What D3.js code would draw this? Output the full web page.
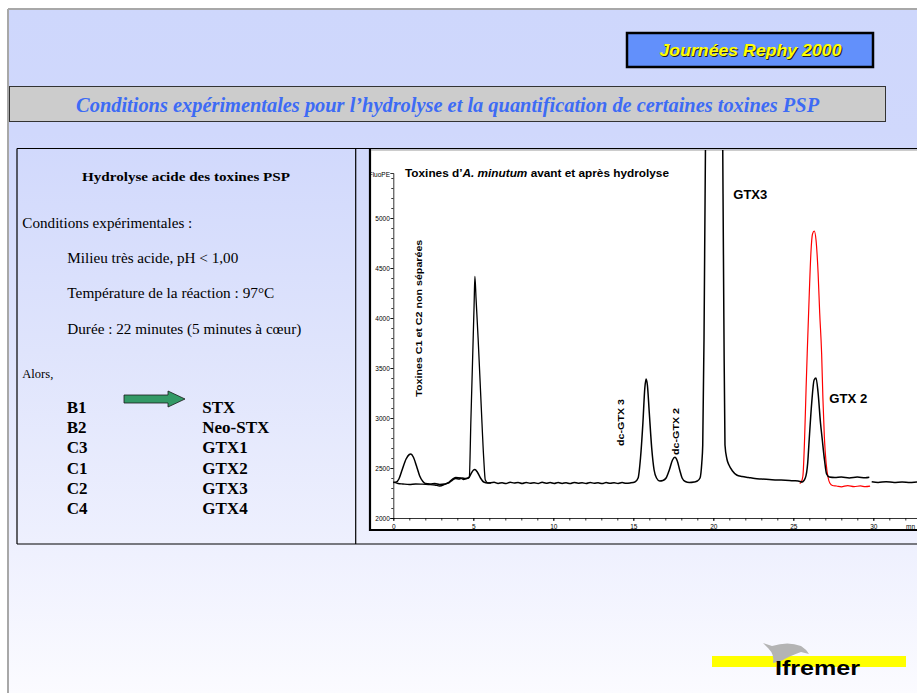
<!DOCTYPE html>
<html><head><meta charset="utf-8">
<script src="https://cdn.jsdelivr.net/npm/d3@7"></script>
<style>body{margin:0;background:#fff;overflow:hidden}svg{display:block}</style>
</head><body><div id="chart"></div>
<script>
// ---------- data ----------
const xTicks = [0, 5, 10, 15, 20, 25, 30];
const yTicks = [2000, 2500, 3000, 3500, 4000, 4500, 5000];
const xUnit = "mn";
const yUnit = "FluoPE";

// chromatogram "avant" (black), [time (min), fluorescence]
const traceAvant = [[0,2355],[0.2,2360],[0.35,2390],[0.55,2480],[0.8,2590],[1.0,2635],[1.1,2640],[1.25,2610],[1.45,2520],[1.65,2420],[1.85,2365],[2.0,2345],[2.3,2340],[2.6,2345],[2.9,2335],[3.2,2340],[3.5,2355],[3.7,2380],[3.9,2395],[4.1,2390],[4.3,2400],[4.5,2395],[4.7,2400],[4.85,2440],[5.0,2478],[5.1,2485],[5.25,2460],[5.45,2400],[5.65,2360],[5.9,2350],[6.3,2357],[6.55,2346],[6.8,2352],[7.05,2344],[7.3,2358],[7.55,2349],[7.8,2355],[8.05,2345],[8.3,2356],[8.55,2347],[8.8,2353],[9.05,2344],[9.3,2357],[9.55,2348],[9.8,2354],[10.05,2345],[10.3,2355],[10.55,2346],[10.8,2352],[11.05,2344],[11.3,2356],[11.55,2348],[11.8,2353],[12.05,2345],[12.3,2355],[12.55,2347],[12.8,2352],[13.05,2344],[13.3,2354],[13.55,2347],[13.8,2353],[14.05,2345],[14.3,2354],[14.55,2348],[14.8,2351],[15.1,2360],[15.3,2400],[15.45,2600],[15.6,2950],[15.72,3300],[15.8,3390],[15.88,3330],[16.0,3050],[16.15,2700],[16.3,2480],[16.45,2400],[16.65,2370],[16.85,2375],[17.05,2400],[17.25,2480],[17.45,2580],[17.6,2607],[17.75,2570],[17.9,2480],[18.05,2400],[18.25,2365],[18.5,2355],[18.8,2360],[19.0,2370],[19.17,2400],[19.28,2550],[19.34,2730],[19.42,3800],[19.51,5700],[19.6,8000],[19.8,14000],[20.05,16000],[20.3,14000],[20.5,8000],[20.59,5700],[20.66,4000],[20.73,2730],[20.85,2590],[20.98,2530],[21.2,2470],[21.46,2430],[21.8,2415],[22.2,2405],[22.6,2395],[23.0,2390],[23.5,2385],[24,2380],[24.5,2378],[25,2372],[25.3,2370],[25.55,2360],[25.75,2400],[25.9,2550],[26.0,2800],[26.15,3150],[26.3,3380],[26.42,3400],[26.55,3250],[26.7,2950],[26.8,2800],[26.95,2580],[27.08,2440],[27.25,2410],[27.6,2405],[28,2410],[28.5,2401],[29,2409],[29.5,2403],[29.75,2408]];
// chromatogram "après" (black, start of run)
const traceApres = [[0,2360],[0.3,2345],[0.6,2340],[1.0,2335],[1.4,2340],[1.8,2338],[2.2,2335],[2.6,2330],[2.9,2320],[3.2,2335],[3.5,2360],[3.7,2390],[3.9,2405],[4.2,2400],[4.4,2385],[4.6,2395],[4.75,2410],[4.85,2980],[4.95,3550],[5.05,4130],[5.1,4415],[5.17,4200],[5.3,3800],[5.5,3100],[5.65,2600],[5.75,2380],[5.9,2352],[6.1,2350]];
// chromatogram "après" (red, GTX 2 region)
const traceRouge = [[25.4,2345],[25.5,2360],[25.6,2420],[25.71,2813],[25.8,3300],[25.87,3647],[26.0,4250],[26.1,4650],[26.2,4840],[26.31,4870],[26.42,4780],[26.55,4450],[26.65,4050],[26.77,3647],[26.85,3200],[26.94,2813],[27.05,2550],[27.18,2400],[27.29,2347],[27.45,2325],[27.7,2320],[28,2312],[28.4,2324],[28.8,2314],[29.2,2321],[29.5,2313],[29.8,2318]];
// end of run (black)
const traceFin = [[29.9,2362],[30.3,2356],[30.8,2363],[31.3,2355],[31.8,2361],[32.3,2356],[32.8,2361],[33.3,2355]];

// peak annotations: [text, time, value, rotated, length]
const peakLabels = [["Toxines C1 et C2 non séparées",1.78,3213,true,157],["dc-GTX 3",14.4,2720,true,47],["dc-GTX 2",17.85,2630,true,47],["GTX3",21.25,5190,false,34],["GTX 2",27.25,3148,false,38]];

const slideBadge = "Journées Rephy 2000";
const slideTitle = "Conditions expérimentales pour l’hydrolyse et la quantification de certaines toxines PSP";
const panelTitle = "Hydrolyse acide des toxines PSP";
const conditionsHead = "Conditions expérimentales :";
const conditionsLines = ["Milieu très acide, pH < 1,00","Température de la réaction : 97°C","Durée : 22 minutes (5 minutes à cœur)"];
const conditionsWidths = [171,207,234];
const alorsText = "Alors,";
const toxinesAvant = ["B1","B2","C3","C1","C2","C4"];
const toxinesApres = ["STX","Neo-STX","GTX1","GTX2","GTX3","GTX4"];

// ---------- drawing ----------
const W = 917, H = 693;
const SERIF = "'Liberation Serif','Times New Roman',serif";
const SANS = "'Liberation Sans',Arial,sans-serif";
const svg = d3.select("#chart").append("svg").attr("width", W).attr("height", H);
const defs = svg.append("defs");
const grad = defs.append("linearGradient").attr("id","bg").attr("gradientUnits","userSpaceOnUse")
  .attr("x1",0).attr("y1",9).attr("x2",0).attr("y2",693);
[[0,"#CED7FC"],[0.18,"#D0D8FC"],[0.5,"#DFE4FC"],[0.78,"#EEF0FE"],[1,"#FBFBFF"]].forEach(s=>grad.append("stop").attr("offset",s[0]).attr("stop-color",s[1]));
defs.append("clipPath").attr("id","plotclip").append("rect").attr("x",371).attr("y",150).attr("width",W-371).attr("height",379);
defs.append("clipPath").attr("id","imgclip").append("rect").attr("x",369).attr("y",149).attr("width",W-369).attr("height",382);

// slide background
svg.append("rect").attr("x",8).attr("y",9).attr("width",W).attr("height",H).attr("fill","url(#bg)");
svg.append("line").attr("x1",8).attr("x2",8).attr("y1",9).attr("y2",H).attr("stroke","#A8A8A8").attr("stroke-width",2);
svg.append("line").attr("x1",8).attr("x2",W).attr("y1",9).attr("y2",9).attr("stroke","#A8A8A8").attr("stroke-width",2);

// badge
svg.append("rect").attr("x",627).attr("y",33).attr("width",246).attr("height",34).attr("fill","#6290FB").attr("stroke","#000").attr("stroke-width",2.5);
const badge = svg.append("g").attr("font-family",SANS).attr("font-weight","bold").attr("font-style","italic").attr("font-size",16.5).attr("text-anchor","middle");
badge.append("text").attr("x",751.5).attr("y",56.5).attr("fill","#222").text(slideBadge).attr("textLength",182).attr("lengthAdjust","spacingAndGlyphs");
badge.append("text").attr("x",750.5).attr("y",55.5).attr("fill","#FFFF00").text(slideBadge).attr("textLength",182).attr("lengthAdjust","spacingAndGlyphs");

// title bar
svg.append("rect").attr("x",9.5).attr("y",86.5).attr("width",876).attr("height",35).attr("fill","#CCCCCC").attr("stroke","#333").attr("stroke-width",1);
svg.append("text").attr("x",447.6).attr("y",111.5).attr("text-anchor","middle").attr("font-family",SERIF).attr("font-weight","bold").attr("font-style","italic").attr("font-size",20).attr("fill","#3D6BF5")
  .attr("textLength",743).attr("lengthAdjust","spacingAndGlyphs").text(slideTitle);

// left panel text
const lp = svg.append("g").attr("font-family",SERIF).attr("fill","#000");
lp.append("text").attr("x",186).attr("y",180.5).attr("text-anchor","middle").attr("font-weight","bold").attr("font-size",13).attr("textLength",208).attr("lengthAdjust","spacingAndGlyphs").text(panelTitle);
lp.append("text").attr("x",22.3).attr("y",227.5).attr("font-size",15).attr("textLength",170).attr("lengthAdjust","spacingAndGlyphs").text(conditionsHead);
conditionsLines.forEach((t,i)=>lp.append("text").attr("x",67.3).attr("y",263+i*35.3).attr("font-size",15).attr("textLength",conditionsWidths[i]).attr("lengthAdjust","spacingAndGlyphs").text(t));
lp.append("text").attr("x",22.3).attr("y",378).attr("font-size",11.5).attr("textLength",31).attr("lengthAdjust","spacingAndGlyphs").text(alorsText);
toxinesAvant.forEach((t,i)=>lp.append("text").attr("x",66.7).attr("y",412.7+i*20.3).attr("font-size",17).attr("font-weight","bold").text(t));
toxinesApres.forEach((t,i)=>lp.append("text").attr("x",202.3).attr("y",412.7+i*20.3).attr("font-size",17).attr("font-weight","bold").text(t));
// green arrow
svg.append("path").attr("d","M124,395 L168,395 L168,391 L185,399 L168,407 L168,403 L124,403 Z").attr("fill","#339966").attr("stroke","#1a1a1a").attr("stroke-width",0.8);

// table borders
const tb = svg.append("g").attr("stroke","#000").attr("stroke-width",1.2).attr("fill","none");
tb.append("line").attr("x1",17).attr("x2",W).attr("y1",148.5).attr("y2",148.5);
tb.append("line").attr("x1",17).attr("x2",W).attr("y1",544).attr("y2",544);
tb.append("line").attr("x1",17).attr("x2",17).attr("y1",148.5).attr("y2",544);
tb.append("line").attr("x1",355.7).attr("x2",355.7).attr("y1",148.5).attr("y2",544);

// chart image
svg.append("rect").attr("x",369).attr("y",149.5).attr("width",W-369).attr("height",380).attr("fill","#fff");
svg.append("line").attr("x1",370).attr("x2",370).attr("y1",149).attr("y2",531).attr("stroke","#000").attr("stroke-width",2.2);
svg.append("line").attr("x1",369).attr("x2",W).attr("y1",530).attr("y2",530).attr("stroke","#000").attr("stroke-width",2);
svg.append("line").attr("x1",371).attr("x2",W).attr("y1",150).attr("y2",150).attr("stroke","#999").attr("stroke-width",1);

const img = svg.append("g").attr("clip-path","url(#imgclip)");
const x = d3.scaleLinear().domain([0,33.7]).range([393.3,393.3+16*33.7]);
const y = d3.scaleLinear().domain([2000,5450]).range([518,173]);

// axes
img.append("g").attr("transform","translate(0,518)")
  .call(d3.axisBottom(x).tickValues(xTicks).tickSize(3).tickSizeOuter(0).tickPadding(3).tickFormat(d3.format("d")));
img.append("g").attr("transform","translate(0,518)")
  .call(d3.axisBottom(x).tickValues(d3.range(0,34,1)).tickSize(2.5).tickFormat("")).select(".domain").remove();
img.append("g").attr("transform","translate(393.3,0)")
  .call(d3.axisLeft(y).tickValues(yTicks).tickSize(3).tickSizeOuter(3).tickPadding(0.5).tickFormat(d3.format("d")));
img.append("g").attr("transform","translate(393.3,0)")
  .call(d3.axisLeft(y).tickValues(d3.range(2000,5401,100)).tickSize(2).tickFormat("")).select(".domain").remove();
img.selectAll(".tick line, .domain").attr("stroke","#000").attr("stroke-width",0.8);
img.selectAll(".tick text").attr("font-family",SANS).attr("font-size",6.5).attr("fill","#000");
img.append("text").attr("x",390).attr("y",176.5).attr("text-anchor","end").attr("font-family",SANS).attr("font-size",6.5).text(yUnit);
img.append("text").attr("x",915).attr("y",528.5).attr("text-anchor","end").attr("font-family",SANS).attr("font-size",6.5).text(xUnit);

// chart title
const ct = img.append("text").attr("x",405).attr("y",177.3).attr("font-family",SANS).attr("font-weight","bold").attr("font-size",10.8).attr("fill","#000");
ct.append("tspan").text("Toxines d’");
ct.append("tspan").attr("font-style","italic").text("A. minutum");
ct.append("tspan").text(" avant et après  hydrolyse");
ct.attr("textLength",264).attr("lengthAdjust","spacingAndGlyphs");

// traces
const plot = img.append("g").attr("clip-path","url(#plotclip)");
const line = d3.line().x(d=>x(d[0])).y(d=>y(d[1])).curve(d3.curveMonotoneX);
plot.append("path").datum(traceApres).attr("d",line).attr("fill","none").attr("stroke","#000").attr("stroke-width",1.3);
plot.append("path").datum(traceRouge).attr("d",line).attr("fill","none").attr("stroke","#FF0000").attr("stroke-width",1.2);
plot.append("path").datum(traceAvant).attr("d",line).attr("fill","none").attr("stroke","#000").attr("stroke-width",1.5);
plot.append("path").datum(traceFin).attr("d",line).attr("fill","none").attr("stroke","#000").attr("stroke-width",1.5);

// peak labels
peakLabels.forEach(([t,tx,v,rot,len])=>{
  const el = img.append("text").attr("font-family",SANS).attr("font-weight","bold").attr("fill","#000")
    .attr("textLength",len).attr("lengthAdjust","spacingAndGlyphs").text(t);
  if(rot){ el.attr("font-size",9.5).attr("transform",`translate(${x(tx)},${y(v)}) rotate(-90)`); }
  else { el.attr("font-size",13).attr("x",x(tx)).attr("y",y(v)); }
});

// Ifremer logo
svg.append("rect").attr("x",712).attr("y",656).attr("width",194).attr("height",11).attr("fill","#FFFF00");
svg.append("path").attr("d","M763,643 L772,646 Q788,641 801,646 Q806,649 809,654 L801,652 Q792,655 781,661 L773,663 Q775,655 768,648 Z").attr("fill","#B4B4B4");
svg.append("text").attr("x",775).attr("y",675).attr("font-family",SANS).attr("font-weight","bold").attr("font-size",20).attr("fill","#000")
  .attr("textLength",85).attr("lengthAdjust","spacingAndGlyphs").text("Ifremer");
</script></body></html>
